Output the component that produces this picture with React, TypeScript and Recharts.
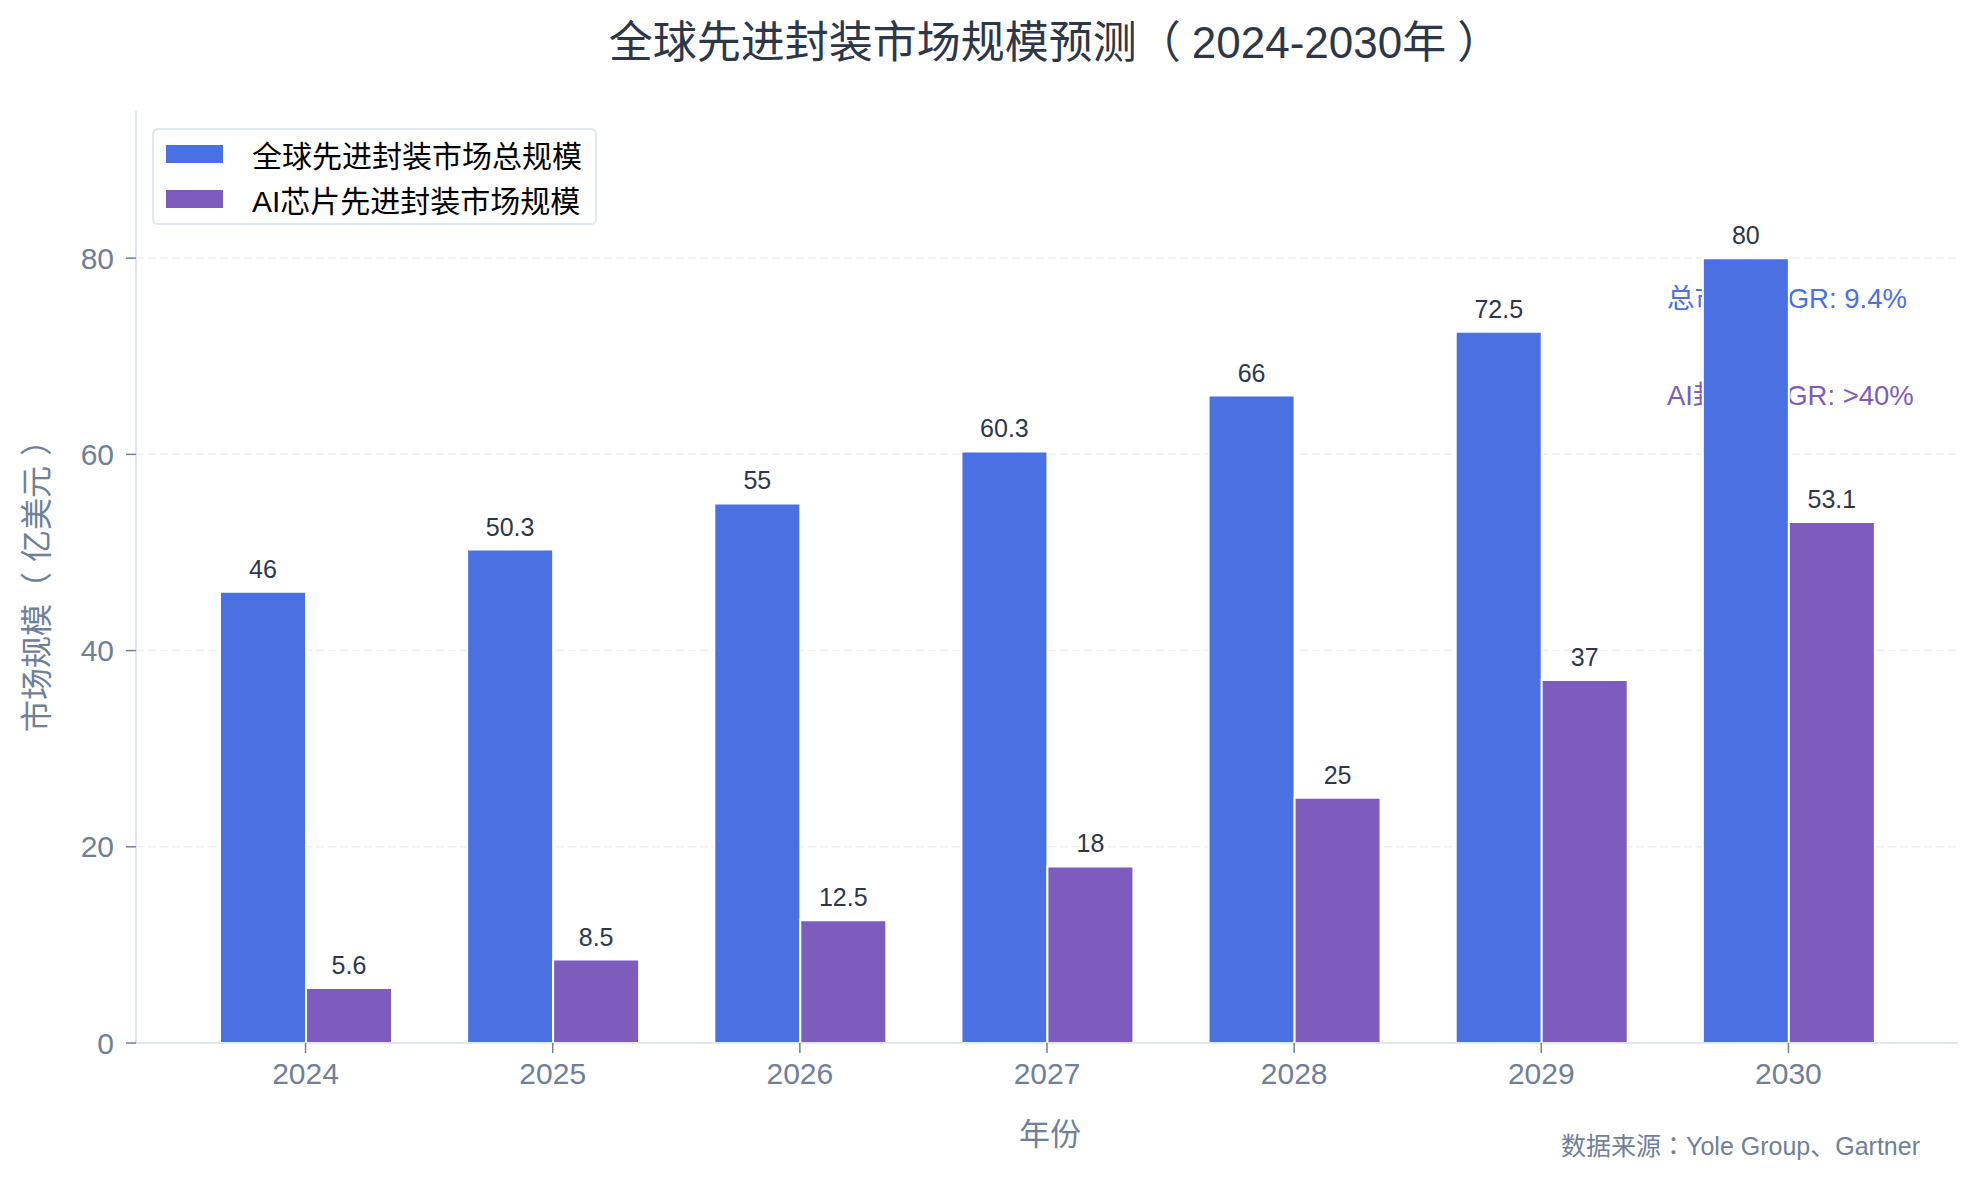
import React from "react";
import { BarChart, Bar, XAxis, YAxis, CartesianGrid, Legend, LabelList } from "recharts";

const years = ["2024", "2025", "2026", "2027", "2028", "2029", "2030"];
const totalMarket = [46, 50.3, 55, 60.3, 66, 72.5, 80];
const aiMarket = [5.6, 8.5, 12.5, 18, 25, 37, 53.1];
const yTicks = [0, 20, 40, 60, 80];
const gridValues = [20, 40, 60, 80];
const seriesOrder = ["total", "ai"];

const BLUE = "#4A70E1";
const PURPLE = "#7D5CBE";
const FONT = "'Liberation Sans', Arial, 'Noto Sans CJK SC', sans-serif";
const PUNCT = "'Noto Sans CJK TC', sans-serif";

const data = years.map((year, i) => ({
  year,
  total: totalMarket[i],
  ai: aiMarket[i],
}));

const renderLegend = (props: any) => {
  const items = [...(props.payload || [])].sort(
    (a: any, b: any) => seriesOrder.indexOf(a.dataKey) - seriesOrder.indexOf(b.dataKey)
  );
  return (
    <div
      style={{
        boxSizing: "border-box",
        width: 445,
        height: 97,
        border: "2px solid #e2e8f0",
        borderRadius: 6,
        background: "#fff",
        padding: "1px 0 0 12px",
      }}
    >
      {items.map((entry: any) => (
        <div key={entry.value} style={{ display: "flex", alignItems: "center", height: 45 }}>
          <span style={{ display: "inline-block", width: 57, height: 18, background: entry.color }} />
          <span style={{ marginLeft: 29, fontSize: 30, color: "#000", whiteSpace: "nowrap" }}>{entry.value}</span>
        </div>
      ))}
    </div>
  );
};

export default function App() {
  return (
    <div
      style={{
        position: "absolute",
        left: 0,
        top: 0,
        width: 1978,
        height: 1180,
        background: "#fff",
        fontFamily: FONT,
      }}
    >
      {/* 背景文字层（CAGR 注释在柱子后面） */}
      <svg width={1978} height={1180} style={{ position: "absolute", left: 0, top: 0 }}>
        <text x={1055} y={42} textAnchor="middle" dominantBaseline="central" fontSize={44} fill="#2d3748">
          全球先进封装市场规模预测<tspan>（</tspan>
          <tspan dx={11}>2024-2030年</tspan>
          <tspan dx={11}>）</tspan>
        </text>
        <text x={1667} y={308} fontSize={27.5} fill={BLUE}>
          总市场CAGR: 9.4%
        </text>
        <text x={1667} y={405} fontSize={27.5} fill={PURPLE}>
          AI封装CAGR: &gt;40%
        </text>
        <text x={1050} y={1134} textAnchor="middle" dominantBaseline="central" fontSize={31} fill="#718096">
          年份
        </text>
        <text
          transform="translate(37,578) rotate(-90)"
          textAnchor="middle"
          dominantBaseline="central"
          fontSize={32}
          fill="#718096"
        >
          市场规模<tspan>（</tspan>
          <tspan dx={10}>亿美元</tspan>
          <tspan dx={10}>）</tspan>
        </text>
        <text x={1920} y={1155} textAnchor="end" fontSize={25} fill="#718096">
          数据来源<tspan fontFamily={PUNCT}>：</tspan>Yole Group、Gartner
        </text>
      </svg>

      <div style={{ position: "absolute", left: 0, top: 0 }}>
        <BarChart
          width={1978}
          height={1180}
          data={data}
          margin={{ top: 111, right: 20, bottom: 77, left: 56 }}
          barGap={0}
        >
          <CartesianGrid
            vertical={false}
            horizontalValues={gridValues}
            stroke="#edf0f5"
            strokeWidth={1.5}
            strokeDasharray="8 4"
          />
          <XAxis
            dataKey="year"
            height={60}
            padding={{ left: 46, right: 46 }}
            tickSize={10}
            tickMargin={10}
            tick={{ fontSize: 30, fill: "#718096" }}
            axisLine={{ stroke: "#e2e8f0", strokeWidth: 2 }}
            tickLine={{ stroke: "#718096", strokeWidth: 1.5 }}
          />
          <YAxis
            width={80}
            domain={[0, 95]}
            ticks={yTicks}
            tickSize={10}
            tickMargin={12}
            tick={{ fontSize: 30, fill: "#718096" }}
            axisLine={{ stroke: "#e2e8f0", strokeWidth: 2 }}
            tickLine={{ stroke: "#718096", strokeWidth: 1.5 }}
          />
          <Legend
            layout="vertical"
            align="center"
            verticalAlign="middle"
            content={renderLegend}
            wrapperStyle={{ position: "absolute", left: 152, top: 128, width: "auto", height: "auto" }}
          />
          <Bar
            dataKey="total"
            name="全球先进封装市场总规模"
            fill={BLUE}
            stroke="#fff"
            strokeWidth={2}
            barSize={86}
            isAnimationActive={false}
          >
            <LabelList dataKey="total" position="top" offset={14} fill="#2d3748" fontSize={25} />
          </Bar>
          <Bar
            dataKey="ai"
            name="AI芯片先进封装市场规模"
            fill={PURPLE}
            stroke="#fff"
            strokeWidth={2}
            barSize={86}
            isAnimationActive={false}
          >
            <LabelList dataKey="ai" position="top" offset={14} fill="#2d3748" fontSize={25} />
          </Bar>
        </BarChart>
      </div>
    </div>
  );
}
